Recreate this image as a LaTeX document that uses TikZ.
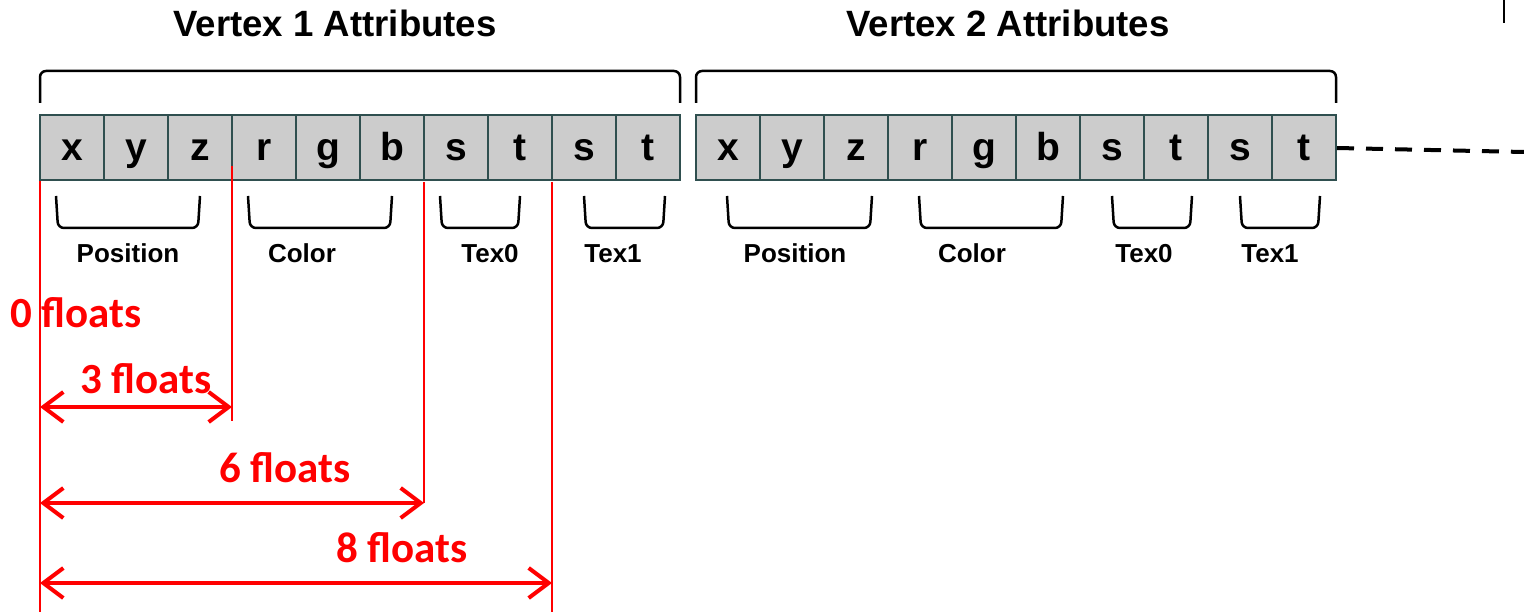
\documentclass[tikz,border=0pt]{standalone}
\usepackage{fontspec}
\setmainfont{Liberation Sans}
\newfontfamily\redfont{Carlito}
\usetikzlibrary{arrows.meta}
\definecolor{cellfill}{HTML}{CCCCCC}
\definecolor{celldraw}{HTML}{2F4F4F}
\definecolor{offred}{HTML}{FF0000}
\begin{document}
\begin{tikzpicture}[x=1pt,y=-1pt,
  cell/.style={draw=celldraw, fill=cellfill, line width=2pt, minimum width=64pt, minimum height=65pt, inner sep=0pt, text height=26pt, text depth=0pt, font=\fontsize{39}{42}\selectfont\bfseries},
  titletext/.style={anchor=base, font=\fontsize{36.6}{40}\selectfont\bfseries},
  grp/.style={anchor=base, font=\fontsize{26}{28}\selectfont\bfseries},
  offtext/.style={anchor=base, text=offred, inner sep=0pt, font=\fontsize{43}{46}\selectfont\redfont\bfseries},
  brace/.style={draw=black, line width=2.5pt, rounded corners=6pt},
  redline/.style={draw=offred, line width=2.5pt},
  dim/.style={draw=offred, line width=4pt, >={Straight Barb[length=20pt,width=30pt]}, <->},
  dashline/.style={draw=black, line width=4pt, dash pattern=on 17pt off 12pt},
]
\useasboundingbox (0,0) rectangle (1524,612);

% titles
\node[titletext] (t1) at (335,37) {Vertex 1 Attributes};
\node[titletext] (t2) at (1008,37) {Vertex 2 Attributes};

% small tick at top right
\coordinate (tickA) at (1504,0);
\coordinate (tickB) at (1504,23);
\draw[line width=2pt] (tickA) -- (tickB);

% top braces
\draw[brace] (40,103) -- (40,71) -- (680,71) -- (680,103);
\draw[brace] (696,103) -- (696,71) -- (1336,71) -- (1336,103);

% cells
\foreach \l [count=\i] in {x,y,z,r,g,b,s,t,s,t} {
  \node[cell] (p\i) at ({40+64*\i-32},148) {\l};
  \node[cell] (q\i) at ({696+64*\i-32},148) {\l};
}

% dashed continuation
\coordinate (dashend) at (1524,152);
\draw[dashline] (q10.east) -- (dashend);

% bottom braces vertex 1
\draw[brace] (56,196) -- (58,228) -- (198,228) -- (200,196);
\draw[brace] (248,196) -- (250,228) -- (390,228) -- (392,196);
\draw[brace] (440,196) -- (442,228) -- (518,228) -- (520,196);
\draw[brace] (584,196) -- (586,228) -- (663,228) -- (665,196);
% bottom braces vertex 2
\draw[brace] (727,196) -- (729,228) -- (870,228) -- (872,196);
\draw[brace] (919,196) -- (921,228) -- (1061,228) -- (1063,196);
\draw[brace] (1112,196) -- (1114,228) -- (1190,228) -- (1192,196);
\draw[brace] (1240,196) -- (1242,228) -- (1318,228) -- (1320,196);

% group labels
\node[grp] (pos1) at (128,263) {Position};
\node[grp] (col1) at (302,263) {Color};
\node[grp] (tx01) at (490,263) {Tex0};
\node[grp] (tx11) at (613,263) {Tex1};
\node[grp] (pos2) at (795,263) {Position};
\node[grp] (col2) at (972,263) {Color};
\node[grp] (tx02) at (1144,263) {Tex0};
\node[grp] (tx12) at (1270,263) {Tex1};

% red offset lines
\coordinate (o0top) at (40,181);  \coordinate (o0bot) at (40,612);
\coordinate (o3top) at (232,166); \coordinate (o3bot) at (232,421);
\coordinate (o6top) at (424,182); \coordinate (o6bot) at (424,503);
\coordinate (o8top) at (552,182); \coordinate (o8bot) at (552,612);
\draw[redline] (o0top) -- (o0bot);
\draw[redline] (o3top) -- (o3bot);
\draw[redline] (o6top) -- (o6bot);
\draw[redline] (o8top) -- (o8bot);

% dimension arrows
\coordinate (a3l) at (40,407);  \coordinate (a3r) at (232,407);
\coordinate (a6l) at (40,503);  \coordinate (a6r) at (424,503);
\coordinate (a8l) at (40,583);  \coordinate (a8r) at (552,583);
\draw[dim] (a3l) -- (a3r);
\draw[dim] (a6l) -- (a6r);
\draw[dim] (a8l) -- (a8r);

% offset labels
\node[offtext] (f0) at (76,328) {0 floats};
\node[offtext] (f3) at (146,393) {3 floats};
\node[offtext] (f6) at (285,482) {6 floats};
\node[offtext] (f8) at (402,562) {8 floats};
\end{tikzpicture}
\end{document}
